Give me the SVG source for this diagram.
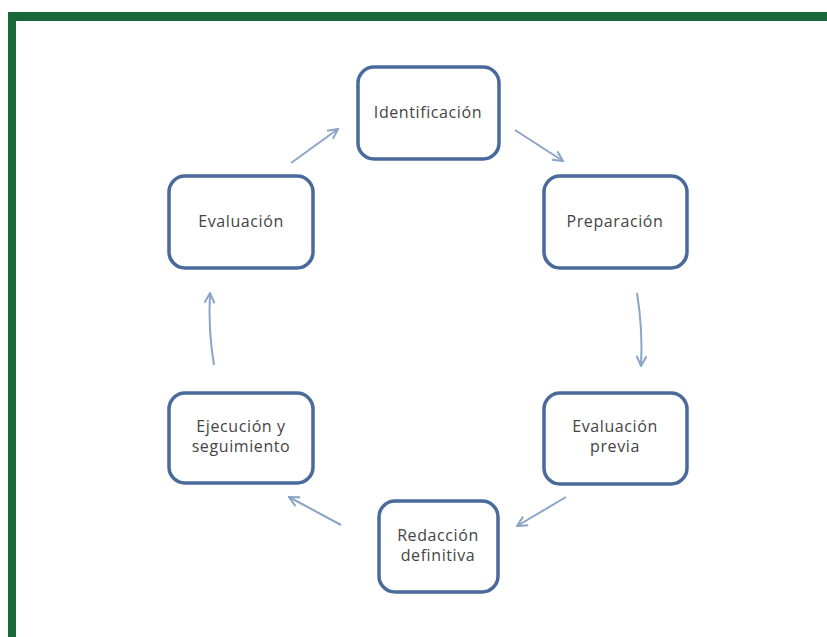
<svg xmlns="http://www.w3.org/2000/svg" width="827" height="637" viewBox="0 0 827 637">
<style>
.box{fill:#fff;stroke:#4a6a9c;stroke-width:3.5}
.t{font-family:"Open Sans","Liberation Sans",sans-serif;font-size:16px;letter-spacing:0.6px;fill:#444;text-anchor:middle}
.c{fill:none;stroke:#8ba5c7;stroke-width:2;marker-end:url(#ah)}
</style>
<defs>
<marker id="ah" viewBox="0 0 12 12" refX="11" refY="6" markerWidth="12" markerHeight="12" markerUnits="userSpaceOnUse" orient="auto">
<path d="M1,1 L11,6 L1,11" fill="none" stroke="#8ba5c7" stroke-width="2"/>
</marker>
</defs>
<rect width="827" height="637" fill="#fff"/>
<rect x="8" y="12" width="819" height="9" fill="#19683a"/>
<rect x="8" y="12" width="8" height="625" fill="#19683a"/>
<g id="n1"><rect class="box" x="358" y="67" width="141" height="92" rx="16"/><text class="t" x="428" y="118">Identificación</text></g>
<g id="n2"><rect class="box" x="544" y="176" width="143" height="92" rx="16"/><text class="t" x="615" y="227">Preparación</text></g>
<g id="n3"><rect class="box" x="544" y="393" width="143" height="91" rx="16"/><text class="t" x="615" y="432">Evaluación</text><text class="t" x="615" y="452">previa</text></g>
<g id="n4"><rect class="box" x="379" y="501" width="119" height="91" rx="16"/><text class="t" x="438" y="541">Redacción</text><text class="t" x="438" y="561">definitiva</text></g>
<g id="n5"><rect class="box" x="169" y="393" width="144" height="90" rx="16"/><text class="t" x="241" y="432">Ejecución y</text><text class="t" x="241" y="452">seguimiento</text></g>
<g id="n6"><rect class="box" x="169" y="176" width="144" height="92" rx="16"/><text class="t" x="241" y="227">Evaluación</text></g>
<g id="connectors">
<path class="c" d="M515,130 L563,161"/>
<path class="c" d="M637,293 Q643,330 641,366"/>
<path class="c" d="M566,497 L517,526"/>
<path class="c" d="M341,525 L289,497"/>
<path class="c" d="M214,365 Q208,330 210,293"/>
<path class="c" d="M291,163 L338,129"/>
</g>
</svg>
